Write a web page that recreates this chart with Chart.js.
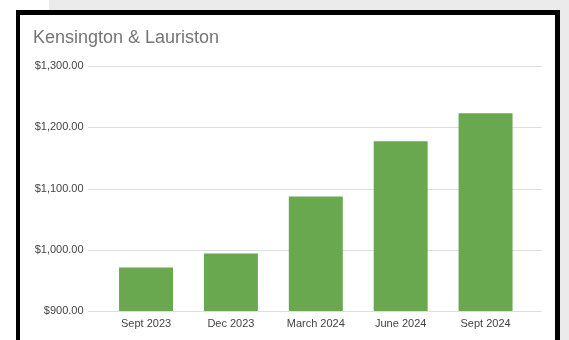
<!DOCTYPE html>
<html>
<head>
<meta charset="utf-8">
<script src="https://cdn.jsdelivr.net/npm/chart.js@4"></script>
<style>
  html, body { margin: 0; padding: 0; width: 569px; height: 340px; overflow: hidden; background: #fff; }
  .backdrop { position: absolute; left: 49px; top: 0; width: 520px; height: 340px; background: #ebebeb; }
  .frame {
    position: absolute; left: 16px; top: 10px;
    width: 535px; height: 340px;
    background: #fff;
    border: 5px solid #000; border-left-width: 4px;
  }
  .frame canvas { display: block; }
</style>
</head>
<body>
<div class="backdrop"></div>
<div class="frame">
  <canvas id="rentChart" width="535" height="325"></canvas>
</div>
<script>
// quarterly rent figures
const quarters = ["Sept 2023", "Dec 2023", "March 2024", "June 2024", "Sept 2024"];
const rents = [971, 994, 1087, 1177, 1223];
const yTicks = [900, 1000, 1100, 1200, 1300];

function money(v) {
    return "$" + v.toLocaleString("en-US", { minimumFractionDigits: 2, maximumFractionDigits: 2 });
}

// horizontal grid lines that run a bit past the bars on both sides
const wideGrid = {
    id: "wideGrid",
    beforeDatasetsDraw(chart) {
        const { ctx, chartArea, scales } = chart;
        ctx.save();
        ctx.strokeStyle = "#dedede";
        ctx.lineWidth = 1;
        yTicks.forEach(v => {
            let y = Math.round(scales.y.getPixelForValue(v)) + 0.5;
            ctx.beginPath();
            ctx.moveTo(chartArea.left - 15.5, y);
            ctx.lineTo(chartArea.right + 14, y);
            ctx.stroke();
        });
        ctx.restore();
    }
};

let ctx = document.getElementById("rentChart").getContext("2d");

new Chart(ctx, {
    type: "bar",
    data: {
        labels: quarters,
        datasets: [{
            data: rents,
            backgroundColor: "#6aa84f",
            borderWidth: 0,
            barPercentage: 0.636,
            categoryPercentage: 1
        }]
    },
    options: {
        responsive: false,
        animation: false,
        layout: { padding: { left: 13, right: 27, top: 5, bottom: 0 } },
        plugins: {
            legend: { display: false },
            tooltip: { enabled: false },
            title: {
                display: true,
                text: "Kensington & Lauriston",
                align: "start",
                color: "#757575",
                font: { family: "Liberation Sans, Arial, sans-serif", size: 18, weight: "normal" },
                padding: { top: 7.2, bottom: 17.2 }
            }
        },
        scales: {
            x: {
                grid: { display: false, drawTicks: false },
                border: { display: false },
                ticks: {
                    color: "#444",
                    padding: 6,
                    font: { family: "Liberation Sans, Arial, sans-serif", size: 11 }
                },
                afterFit(scale) { scale.height = 29; }
            },
            y: {
                min: 900,
                max: 1300,
                grid: { display: false, drawTicks: false },
                border: { display: false },
                afterBuildTicks(scale) { scale.ticks = yTicks.map(v => ({ value: v })); },
                ticks: {
                    color: "#444",
                    padding: 20,
                    font: { family: "Liberation Sans, Arial, sans-serif", size: 11 },
                    callback: v => money(v)
                },
                afterFit(scale) { scale.width = 70.6; }
            }
        }
    },
    plugins: [wideGrid]
});
</script>
</body>
</html>
